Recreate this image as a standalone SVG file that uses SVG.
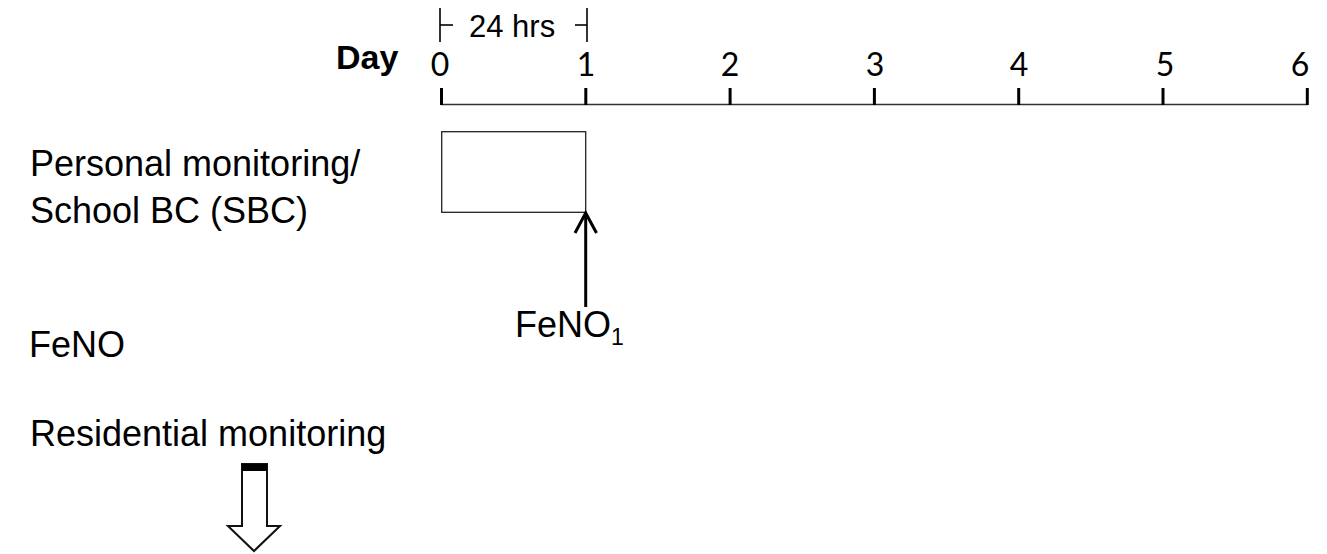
<svg xmlns="http://www.w3.org/2000/svg" width="1327" height="554" viewBox="0 0 1327 554">
<style>
.lbl{font-family:"Liberation Sans",Arial,sans-serif;font-size:36px;fill:#000}
.num{font-family:Lato,"Liberation Sans",sans-serif;font-size:32px;fill:#000;text-anchor:middle}
.tick{stroke:#000;stroke-width:3}
.axis{stroke:#333;stroke-width:1.5}
.thin{stroke:#000;stroke-width:1.6;fill:none}
</style>
<rect width="1327" height="554" fill="#fff"/>
<g id="axis">
<text x="336" y="69" class="lbl" style="font-weight:bold;font-size:34px">Day</text>
<line class="axis" x1="441" y1="104.5" x2="1308" y2="104.5"/>
<line class="tick" x1="441.5" y1="88" x2="441.5" y2="105"/>
<line class="tick" x1="585.8" y1="88" x2="585.8" y2="105"/>
<line class="tick" x1="730.1" y1="88" x2="730.1" y2="105"/>
<line class="tick" x1="874.4" y1="88" x2="874.4" y2="105"/>
<line class="tick" x1="1018.7" y1="88" x2="1018.7" y2="105"/>
<line class="tick" x1="1163" y1="88" x2="1163" y2="105"/>
<line class="tick" x1="1307.3" y1="88" x2="1307.3" y2="105"/>
<text class="num" x="440" y="76">0</text>
<text class="num" x="586" y="76">1</text>
<text class="num" x="730" y="76">2</text>
<text class="num" x="875" y="76">3</text>
<text class="num" x="1019" y="76">4</text>
<text class="num" x="1165" y="76">5</text>
<text class="num" x="1300" y="76">6</text>
</g>
<g id="bracket24">
<line class="thin" x1="440" y1="8" x2="440" y2="42"/>
<line class="thin" x1="440" y1="25" x2="453" y2="25"/>
<line class="thin" x1="587" y1="8" x2="587" y2="42"/>
<line class="thin" x1="575" y1="25" x2="587" y2="25"/>
<text class="lbl" x="469" y="37" style="font-size:31px">24 hrs</text>
</g>
<g id="personal">
<text class="lbl" x="30" y="176">Personal monitoring/</text>
<text class="lbl" x="30" y="223">School BC (SBC)</text>
<rect x="441.7" y="131.7" width="144" height="80.6" fill="none" stroke="#222" stroke-width="1.3"/>
</g>
<g id="feno">
<text class="lbl" x="29" y="357">FeNO</text>
<text class="lbl" x="515" y="337">FeNO<tspan font-size="23" dy="8">1</tspan></text>
</g>
<g id="residential">
<text class="lbl" x="30" y="446">Residential monitoring</text>
<polygon points="242,464 267,464 267,526 280,526 254,551 228,526 242,526" fill="#fff" stroke="#111" stroke-width="2"/>
<rect x="242" y="464" width="25" height="7" fill="#000"/>
</g>
<g id="connectors">
<line x1="585.7" y1="307" x2="585.7" y2="214" stroke="#000" stroke-width="3"/>
<polyline points="575,233 585.7,213 596.5,233" fill="none" stroke="#000" stroke-width="3"/>
</g>
</svg>
